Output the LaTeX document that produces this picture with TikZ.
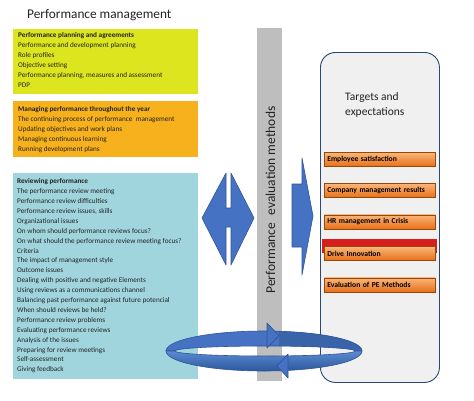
\documentclass[tikz,border=0pt]{standalone}
\usepackage{fontspec}
\setmainfont{Carlito}
\definecolor{ylw}{RGB}{221,229,30}
\definecolor{org}{RGB}{246,177,28}
\definecolor{tea}{RGB}{161,213,222}
\definecolor{gbar}{RGB}{190,190,190}
\definecolor{rbfill}{RGB}{240,240,240}
\definecolor{rbline}{RGB}{46,70,118}
\definecolor{arrfill}{RGB}{70,114,196}
\definecolor{arrline}{RGB}{47,85,151}
\definecolor{arrdark}{RGB}{58,100,170}
\definecolor{ringlight}{RGB}{92,139,210}
\definecolor{ringdark}{RGB}{44,88,156}
\definecolor{obtop}{RGB}{250,182,122}
\definecolor{obbot}{RGB}{232,112,25}
\definecolor{obline}{RGB}{150,72,8}
\definecolor{redbar}{RGB}{214,30,30}
\definecolor{txt}{RGB}{35,35,35}
\tikzset{
  panel/.style={anchor=north west, inner sep=0pt, draw=none},
  listbox/.style={anchor=north west, inner sep=0pt, align=left, text=txt,
    font=\fontsize{7.2}{9.9}\selectfont},
  tbox/.style={anchor=north west, draw=obline, line width=0.7pt, top color=obtop,
    bottom color=obbot, inner xsep=3pt, inner ysep=0pt, text width=105pt,
    minimum height=14pt, align=left, text=black,
    font=\fontsize{7.6}{8}\selectfont\bfseries},
  blockarrow/.style={fill=arrfill, draw=arrline, line width=0.6pt, line join=round},
  ringedge/.style={draw=arrline, line width=0.6pt, line join=round},
}
\begin{document}
\begin{tikzpicture}[x=1pt,y=-1pt]
\useasboundingbox (0,0) rectangle (474,400);
\fill[white] (0,0) rectangle (474,400);

% title
\node[anchor=base west, inner sep=0pt, text=txt, font=\fontsize{13.3}{16}\selectfont] (title) at (27,18) {Performance management};

% left panels
\node[panel, fill=ylw, minimum width=185pt, minimum height=65pt] (yb) at (13,29) {};
\node[panel, fill=org, minimum width=185pt, minimum height=56pt] (ob) at (13,101) {};
\node[panel, fill=tea, minimum width=185pt, minimum height=206pt] (tb) at (13,173) {};

\node[listbox] (ytext) at (18,32.5) {\textbf{Performance planning and agreements}\\
Performance and development planning\\
Role profiles\\
Objective setting\\
Performance planning, measures and assessment\\
PDP};

\node[listbox] (otext) at (18,106.5) {\textbf{Managing performance throughout the year}\\
The continuing process of performance~ management\\
Updating objectives and work plans\\
Managing continuous learning\\
Running development plans};

\node[listbox] (ttext) at (17,178.5) {\textbf{Reviewing performance}\\
The performance review meeting\\
Performance review difficulties\\
Performance review issues, skills\\
Organizational issues\\
On whom should performance reviews focus?\\
On what should the performance review meeting focus?\\
Criteria\\
The impact of management style\\
Outcome issues\\
Dealing with positive and negative Elements\\
Using reviews as a communications channel\\
Balancing past performance against future potencial\\
When should reviews be held?\\
Performance review problems\\
Evaluating performance reviews\\
Analysis of the issues\\
Preparing for review meetings\\
Self-assessment\\
Giving feedback};

% gray bar
\node[panel, fill=gbar, minimum width=25pt, minimum height=353pt] (gb) at (257,28) {};
\node[rotate=90, text=txt, font=\fontsize{13.5}{16}\selectfont] (pem) at (270.5,200) {Performance\hspace{0.55em}evaluation methods};

% right rounded box
\node[panel, draw=rbline, fill=rbfill, line width=0.9pt, rounded corners=15pt, minimum width=119pt, minimum height=330pt] (rbox) at (320,52) {};
\node[anchor=north west, inner sep=0pt, align=left, text=txt, font=\fontsize{11.5}{15}\selectfont] (tg) at (345,92) {Targets and\\expectations};

\node[panel, fill=redbar, minimum width=115pt, minimum height=14pt] (rbar) at (322,239) {};
\node[tbox] (t1) at (324,152) {Employee satisfaction};
\node[tbox] (t2) at (324,183) {Company management results};
\node[tbox] (t3) at (324,214.5) {HR management in Crisis};
\node[tbox] (t4) at (324,246) {Drive Innovation};
\node[tbox] (t5) at (324,277.5) {Evaluation of PE Methods};

% double arrow
\draw[blockarrow] (202,218) -- (226,173) -- (226,208) -- (231,208) -- (231,173) -- (254,218)
  -- (231,265) -- (231,227) -- (226,227) -- (226,265) -- cycle;
% right arrow
\draw[blockarrow] (292,184) -- (302,184) -- (302,158) -- (313,216) -- (302,275) -- (302,247) -- (292,247) -- cycle;

% ring: back band (over the top)
\fill[arrfill]
  plot[domain=180:360, samples=72] ({264+98*cos(\x)},{351+20*sin(\x)})
  -- plot[domain=360:180, samples=72] ({265+90*cos(\x)},{351+5*sin(\x)}) -- cycle;
\begin{scope}
\clip (279,300) rectangle (380,352);
\fill[arrdark]
  plot[domain=180:360, samples=72] ({264+98*cos(\x)},{351+20*sin(\x)})
  -- plot[domain=360:180, samples=72] ({265+90*cos(\x)},{351+5*sin(\x)}) -- cycle;
\end{scope}
\path[ringedge]
  plot[domain=180:360, samples=72] ({264+98*cos(\x)},{351+20*sin(\x)})
  -- plot[domain=360:180, samples=72] ({265+90*cos(\x)},{351+5*sin(\x)}) -- cycle;
% ring: front band (under the bottom)
\path[ringedge, top color=ringlight, bottom color=ringdark]
  plot[domain=180:0, samples=72] ({265+90*cos(\x)},{351+5*sin(\x)})
  -- plot[domain=0:180, samples=72] ({264+98*cos(\x)},{351+20*sin(\x)}) -- cycle;
% arrowheads on ring
\draw[blockarrow] (267,323) -- (279,335.5) -- (267,348) -- cycle;
\draw[blockarrow] (288,354) -- (277,366) -- (288,378) -- cycle;
\end{tikzpicture}
\end{document}
